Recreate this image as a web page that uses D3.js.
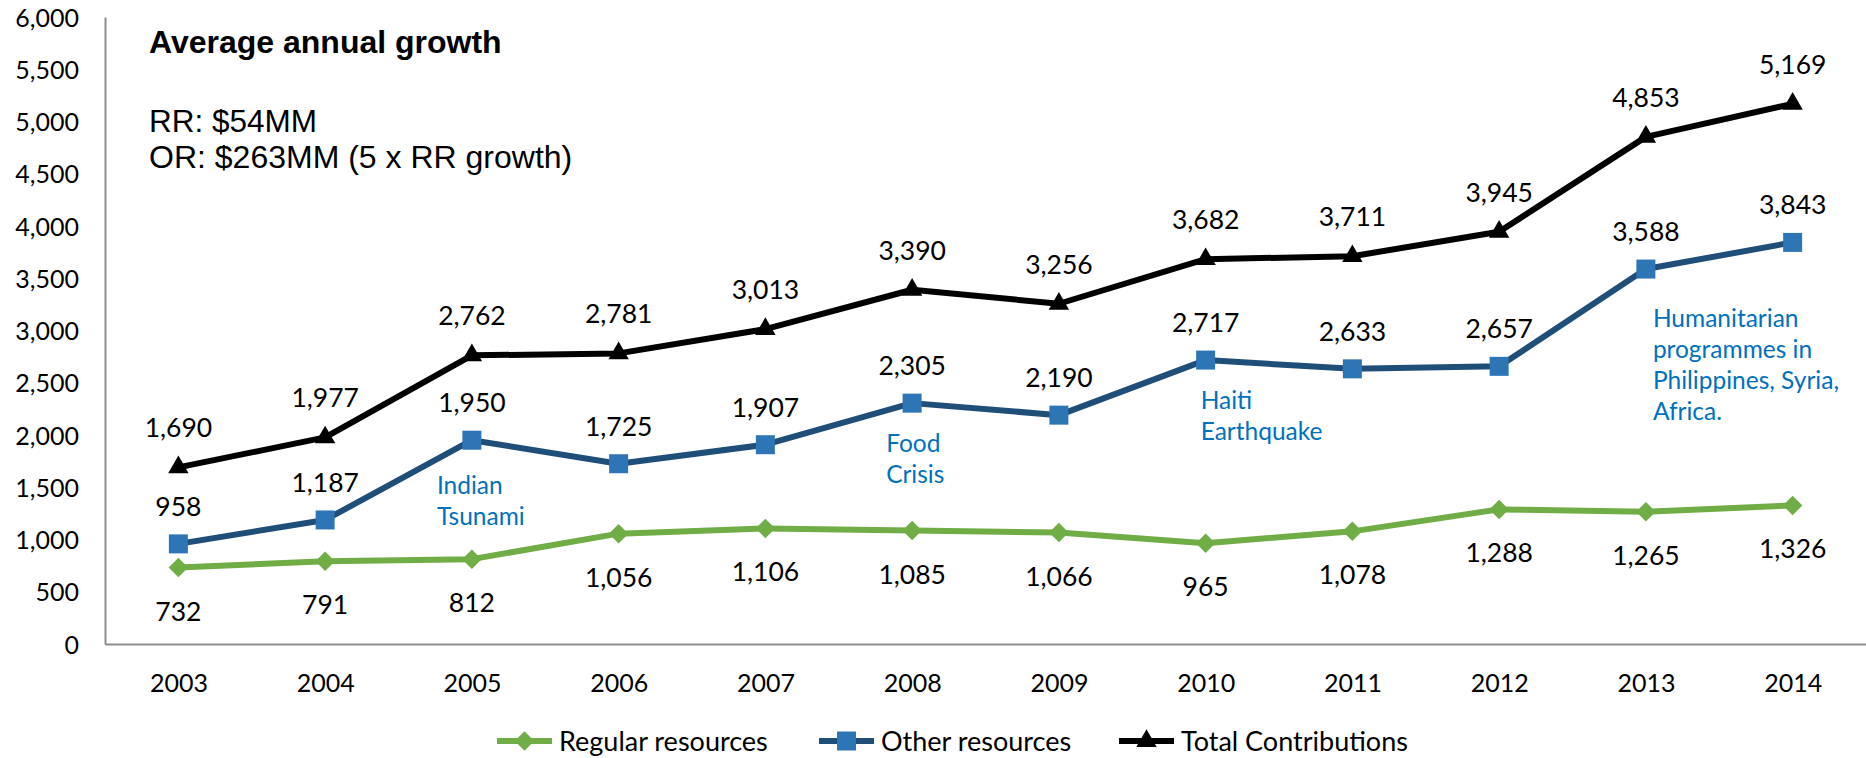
<!DOCTYPE html>
<html>
<head>
<meta charset="utf-8">
<script src="https://cdn.jsdelivr.net/npm/d3@7"></script>
<style>
  body { margin: 0; background: #fff; }
  svg text { font-family: Lato, "Noto Sans", sans-serif; }
</style>
</head>
<body>
<div id="chart"></div>
<script>
// Data
const years = ['2003', '2004', '2005', '2006', '2007', '2008', '2009', '2010', '2011', '2012', '2013', '2014']
const regularResources = [732, 791, 812, 1056, 1106, 1085, 1066, 965, 1078, 1288, 1265, 1326]
const otherResources = [958, 1187, 1950, 1725, 1907, 2305, 2190, 2717, 2633, 2657, 3588, 3843]
const totalContributions = [1690, 1977, 2762, 2781, 3013, 3390, 3256, 3682, 3711, 3945, 4853, 5169]
const yTicks = [0, 500, 1000, 1500, 2000, 2500, 3000, 3500, 4000, 4500, 5000, 5500, 6000]
const seriesNames = ['Regular resources', 'Other resources', 'Total Contributions']
const notes = [
  { year: '2005', value: 1435, dx: -35, lines: ['Indian', 'Tsunami'] },
  { year: '2008', value: 1837, dx: -26, lines: ['Food', 'Crisis'] },
  { year: '2010', value: 2249, dx: -5, lines: ['Haiti', 'Earthquake'] },
  { year: '2013', value: 3033, dx: 7, lines: ['Humanitarian', 'programmes in', 'Philippines, Syria,', 'Africa.'] }
]

// Dimensions
const width = 1866
const height = 758
const plot = { left: 105, right: 1866, top: 17, bottom: 644 }

const svg = d3.select('#chart')
  .append('svg')
  .attr('width', width)
  .attr('height', height)

// Scales
const xScale = d3.scalePoint()
  .domain(years)
  .range([plot.left, plot.right])
  .padding(0.5)

const yScale = d3.scaleLinear()
  .domain([0, 6000])
  .range([plot.bottom, plot.top])

const fmt = d3.format(',')

// Axes (no tick marks, grey lines)
const yAxis = svg.append('g')
  .attr('transform', `translate(${plot.left},0)`)
  .call(d3.axisLeft(yScale).tickValues(yTicks).tickFormat(fmt).tickSize(0).tickPadding(26))
yAxis.select('.domain').attr('stroke', '#8c8c8c').attr('stroke-width', 2)
yAxis.selectAll('text')
  .attr('font-size', 25)
  .attr('font-family', 'Lato')
  .attr('fill', '#000')
  .attr('dy', '0.36em')

const xAxis = svg.append('g')
  .attr('transform', `translate(0,${plot.bottom})`)
  .call(d3.axisBottom(xScale).tickSize(0).tickPadding(30))
xAxis.select('.domain').attr('stroke', '#8c8c8c').attr('stroke-width', 2)
xAxis.selectAll('text')
  .attr('font-size', 25)
  .attr('font-family', 'Lato')
  .attr('fill', '#000')

// Series
const series = [
  { name: seriesNames[0], values: regularResources, line: '#70ad47', fill: '#70ad47', shape: 'diamond', labelDy: 53 },
  { name: seriesNames[1], values: otherResources, line: '#1f4e79', fill: '#2e75b6', shape: 'square', labelDy: -28 },
  { name: seriesNames[2], values: totalContributions, line: '#000000', fill: '#000000', shape: 'triangle', labelDy: -30 }
]

function markerPath(shape) {
  if (shape === 'square') return d3.symbol(d3.symbolSquare, 361)()
  if (shape === 'triangle') return d3.symbol(d3.symbolTriangle, 180)()
  return d3.symbol(d3.symbolSquare, 190)()
}
function markerRotate(shape) {
  return shape === 'diamond' ? ' rotate(45)' : ''
}

const line = d3.line()
  .x((d, i) => xScale(years[i]))
  .y(d => yScale(d))

series.forEach(s => {
  const g = svg.append('g')
  g.append('path')
    .datum(s.values)
    .attr('d', line)
    .attr('fill', 'none')
    .attr('stroke', s.line)
    .attr('stroke-width', 6)
    .attr('stroke-linejoin', 'round')

  g.selectAll('path.marker')
    .data(s.values)
    .join('path')
    .attr('class', 'marker')
    .attr('d', markerPath(s.shape))
    .attr('transform', (d, i) => `translate(${xScale(years[i])},${yScale(d)})` + markerRotate(s.shape))
    .attr('fill', s.fill)

  g.selectAll('text')
    .data(s.values)
    .join('text')
    .attr('x', (d, i) => xScale(years[i]))
    .attr('y', d => yScale(d) + s.labelDy)
    .attr('text-anchor', 'middle')
    .attr('font-size', 26.5)
    .attr('fill', '#000')
    .text(d => fmt(d))
})

// Annotations
notes.forEach(n => {
  const t = svg.append('text')
    .attr('x', xScale(n.year) + n.dx)
    .attr('y', yScale(n.value))
    .attr('font-size', 24.5)
    .attr('fill', '#0070c0')
  n.lines.forEach((l, i) => {
    t.append('tspan')
      .attr('x', xScale(n.year) + n.dx)
      .attr('dy', i === 0 ? 0 : 31)
      .text(l)
  })
})

// Growth text box
const boxFont = '"Liberation Sans", Arial, sans-serif'
svg.append('text')
  .attr('x', 149).attr('y', 53)
  .style('font-family', boxFont)
  .attr('font-size', 32)
  .attr('font-weight', 'bold')
  .text('Average annual growth')
svg.append('text')
  .attr('x', 149).attr('y', 132)
  .style('font-family', boxFont)
  .attr('font-size', 31.5)
  .text('RR: $54MM')
svg.append('text')
  .attr('x', 149).attr('y', 168)
  .style('font-family', boxFont)
  .attr('font-size', 32)
  .text('OR: $263MM (5 x RR growth)')

// Legend
const legendX = [497, 819, 1119]
const legendY = 741
const legend = svg.append('g')
series.forEach((s, i) => {
  const lg = legend.append('g').attr('transform', `translate(${legendX[i]},${legendY})`)
  lg.append('line')
    .attr('x1', 0).attr('x2', 55)
    .attr('stroke', s.line)
    .attr('stroke-width', 6)
  lg.append('path')
    .attr('d', markerPath(s.shape))
    .attr('transform', 'translate(27.5,0)' + markerRotate(s.shape))
    .attr('fill', s.fill)
  lg.append('text')
    .attr('x', 62)
    .attr('y', 10)
    .attr('font-size', 27)
    .attr('fill', '#000')
    .text(s.name)
})
</script>
</body>
</html>
